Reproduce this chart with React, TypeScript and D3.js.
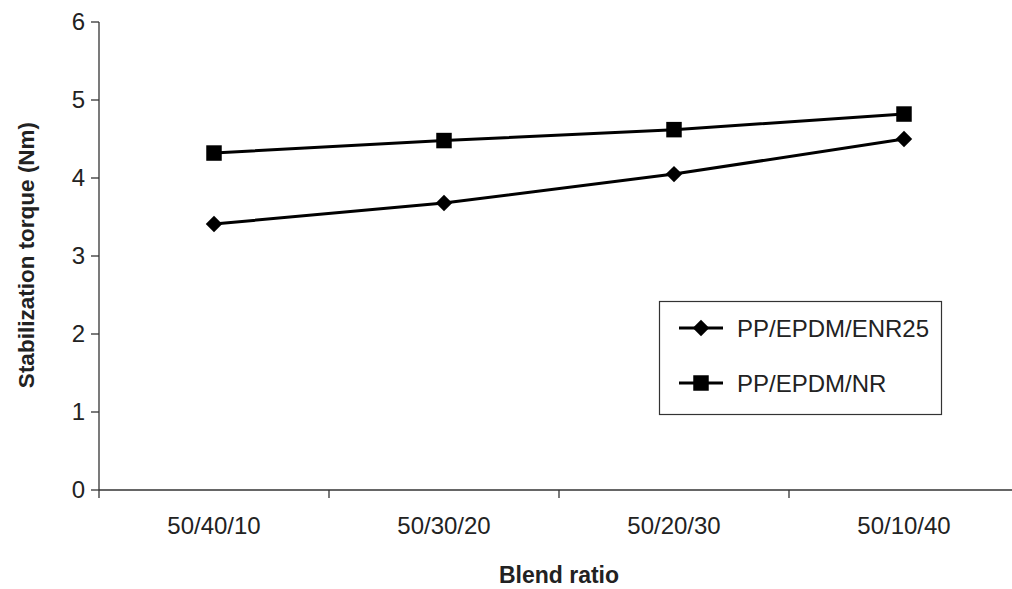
import React from "react";
import * as d3 from "d3";

const categories = ["50/40/10", "50/30/20", "50/20/30", "50/10/40"];
const enr25 = [3.41, 3.68, 4.05, 4.5];
const nr = [4.32, 4.48, 4.62, 4.82];
const yTicks = [0, 1, 2, 3, 4, 5, 6];
const seriesNames = ["PP/EPDM/ENR25", "PP/EPDM/NR"];

const W = 1012;
const H = 589;
const FONT = "'Liberation Sans', Arial, sans-serif";

export default function App() {
  const x = d3.scaleBand().domain(categories).range([99, 1019]);
  const y = d3.scaleLinear().domain([0, 6]).range([490, 22]);
  const cx = (c: string) => (x(c) as number) + x.bandwidth() / 2;

  const line = d3
    .line<number>()
    .x((_, i) => cx(categories[i]))
    .y((d) => y(d));

  // diamond = square turned 45deg, square = plain square
  const diamondPath = d3.symbol().type(d3.symbolSquare).size(135)();
  const squarePath = d3.symbol().type(d3.symbolSquare).size(240)();

  const series = [
    { name: seriesNames[0], values: enr25, marker: diamondPath, rot: 45 },
    { name: seriesNames[1], values: nr, marker: squarePath, rot: 0 },
  ];

  return (
    <svg
      width={W}
      height={H}
      style={{ position: "absolute", left: 0, top: 0, background: "#fff" }}
      fontFamily={FONT}
    >
      {/* y axis */}
      <line x1={99} x2={99} y1={y(6)} y2={y(0) + 8} stroke="#333" strokeWidth={1.3} />
      {yTicks.map((t) => (
        <g key={t}>
          <line x1={91} x2={99} y1={y(t)} y2={y(t)} stroke="#333" strokeWidth={1.3} />
          <text x={85} y={y(t)} dy="0.35em" textAnchor="end" fontSize={24} fill="#222">
            {t}
          </text>
        </g>
      ))}
      {/* x axis */}
      <line x1={99} x2={W} y1={y(0)} y2={y(0)} stroke="#333" strokeWidth={1.3} />
      {categories.slice(1).map((c) => (
        <line
          key={c}
          x1={x(c) as number}
          x2={x(c) as number}
          y1={y(0)}
          y2={y(0) + 8}
          stroke="#333"
          strokeWidth={1.3}
        />
      ))}
      {categories.map((c) => (
        <text key={c} x={cx(c)} y={534} textAnchor="middle" fontSize={24} fill="#222">
          {c}
        </text>
      ))}

      {/* titles */}
      <text x={559} y={583} textAnchor="middle" fontSize={23} fontWeight="bold" fill="#222">
        Blend ratio
      </text>
      <text
        transform={`translate(34,255) rotate(-90)`}
        textAnchor="middle"
        fontSize={22.5}
        fontWeight="bold"
        fill="#222"
      >
        Stabilization torque (Nm)
      </text>

      {/* series */}
      {series.map((s) => (
        <g key={s.name}>
          <path d={line(s.values) as string} fill="none" stroke="#000" strokeWidth={3} />
          {s.values.map((v, i) => (
            <path
              key={i}
              d={s.marker as string}
              transform={`translate(${cx(categories[i])},${y(v)}) rotate(${s.rot})`}
              fill="#000"
            />
          ))}
        </g>
      ))}

      {/* legend */}
      <rect x={659.5} y={301.5} width={282} height={113} fill="#fff" stroke="#333" strokeWidth={1.2} />
      {series.map((s, i) => {
        const ly = 328 + i * 55;
        return (
          <g key={s.name}>
            <line x1={679} x2={723} y1={ly} y2={ly} stroke="#000" strokeWidth={3} />
            <path d={s.marker as string} transform={`translate(701,${ly}) rotate(${s.rot})`} fill="#000" />
            <text x={737} y={ly + 9} fontSize={24} fill="#222">
              {s.name}
            </text>
          </g>
        );
      })}
    </svg>
  );
}
